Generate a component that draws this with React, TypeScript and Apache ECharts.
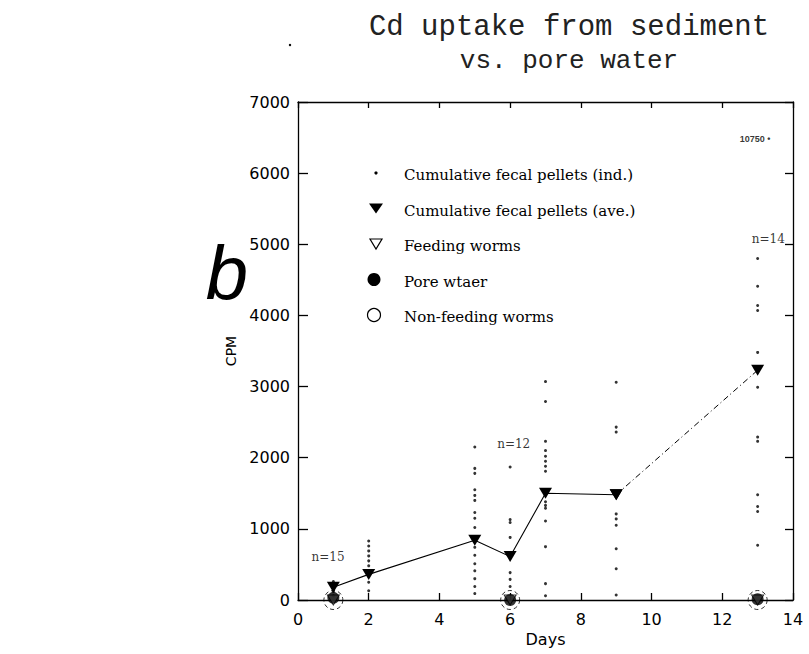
import React, { useEffect, useRef } from "react";
import * as echarts from "echarts";

// Days with sampled worms
const days = [1, 2, 5, 6, 7, 9, 13];
// Cumulative fecal pellets (average) per day
const aveCPM = [180, 360, 840, 610, 1500, 1480, 3230];
// Individual cumulative fecal pellet values per day
const indDay1 = [260, 190, 120, 60];
const indDay2 = [830, 760, 690, 620, 550, 480, 410, 250, 130];
const indDay5 = [2150, 1850, 1780, 1550, 1470, 1400, 1230, 1150, 1020, 740, 630, 510, 410, 300, 190, 90];
const indDay6 = [1870, 1130, 1090, 880, 385, 290, 190];
const indDay7 = [3070, 2790, 2230, 2100, 2020, 1950, 1880, 1810, 1380, 1330, 1290, 1110, 750, 230, 60];
const indDay9 = [3060, 2430, 2360, 1210, 1140, 1050, 720, 440, 70];
const indDay13 = [4800, 4410, 4140, 4070, 3480, 2990, 2290, 2230, 1480, 1315, 1245, 770];
const indByDay = [indDay1, indDay2, indDay5, indDay6, indDay7, indDay9, indDay13];
// Worm / pore water measurements
const wormDays = [1, 6, 13];
const poreWater = [30, 0, 10];
const feedingWorms = [0, 0, 0];
const nonFeedingWorms = [0, 0, 0];
// Sample size annotations [day, CPM, label]
const nLabels: [number, number, string][] = [
  [0.85, 600, "n=15"],
  [6.1, 2190, "n=12"],
  [13.3, 5080, "n=14"],
];
const offScale: [number, number, string][] = [[12.93, 6480, "10750 •"]];

const xTicks = [0, 14, 2];
const yTicks = [0, 7000, 1000];

export default function App() {
  const ref = useRef<HTMLDivElement>(null);
  useEffect(() => {
    if (!ref.current) return;
    const chart = echarts.init(ref.current, null, { renderer: "svg" });
    const indData: number[][] = [];
    days.forEach((d, i) => indByDay[i].forEach((v) => indData.push([d, v])));
    const aveSolid = days.slice(0, 6).map((d, i) => [d, aveCPM[i]]);
    const aveDashed = days.slice(5).map((d, i) => [d, aveCPM[i + 5]]);
    const black = "#000";
    const numFont = "DejaVu Sans";
    const serif = "DejaVu Serif";
    const legendRows = [
      { kind: "dot", text: "Cumulative fecal pellets (ind.)" },
      { kind: "ftri", text: "Cumulative fecal pellets (ave.)" },
      { kind: "otri", text: "Feeding worms" },
      { kind: "fcirc", text: "Pore wtaer" },
      { kind: "ocirc", text: "Non-feeding worms" },
    ];
    const legendChildren: any[] = [];
    legendRows.forEach((r, i) => {
      const cy = 173 + i * 35.5;
      const cx = 376;
      if (r.kind === "dot") legendChildren.push({ type: "circle", shape: { cx, cy, r: 1.6 }, style: { fill: black } });
      if (r.kind === "ftri") legendChildren.push({ type: "polygon", shape: { points: [[cx - 7, cy - 5], [cx + 7, cy - 5], [cx, cy + 5]] }, style: { fill: black } });
      if (r.kind === "otri") legendChildren.push({ type: "polygon", shape: { points: [[cx - 6, cy - 5], [cx + 6, cy - 5], [cx, cy + 5]] }, style: { fill: "#fff", stroke: black, lineWidth: 1.2 } });
      if (r.kind === "fcirc") legendChildren.push({ type: "circle", shape: { cx: cx - 2, cy, r: 6.5 }, style: { fill: black } });
      if (r.kind === "ocirc") legendChildren.push({ type: "circle", shape: { cx: cx - 2, cy, r: 6.5 }, style: { fill: "#fff", stroke: black, lineWidth: 1.2 } });
      legendChildren.push({
        type: "text",
        x: 404,
        y: cy + 2,
        style: { text: r.text, fill: black, font: `15px "${serif}"`, verticalAlign: "middle", align: "left" },
      });
    });

    const axisLineStyle = { color: black, width: 1.3 };
    const tickStyle = { color: black, width: 1.3 };

    chart.setOption({
      animation: false,
      backgroundColor: "#fff",
      title: {
        text: "Cd uptake from sediment",
        subtext: "vs. pore water",
        left: 564,
        top: 8,
        textAlign: "center",
        itemGap: 6,
        textStyle: { fontFamily: "Liberation Mono", fontSize: 29, fontWeight: "normal", color: "#222" },
        subtextStyle: { fontFamily: "Liberation Mono", fontSize: 26, color: "#222" },
      },
      grid: { left: 298, right: 16, top: 102, bottom: 54, outerBoundsMode: "none", containLabel: false },
      xAxis: [
        {
          type: "value",
          position: "bottom",
          min: xTicks[0],
          max: xTicks[1],
          interval: xTicks[2],
          name: "Days",
          nameLocation: "middle",
          nameGap: 31,
          nameTextStyle: { fontFamily: numFont, fontSize: 16, color: black },
          axisLine: { show: true, onZero: false, lineStyle: axisLineStyle },
          axisTick: { show: true, inside: true, length: 7, lineStyle: tickStyle },
          axisLabel: { margin: 11, fontFamily: numFont, fontSize: 16, color: black },
          splitLine: { show: false },
        },
        {
          type: "value",
          position: "top",
          min: xTicks[0],
          max: xTicks[1],
          interval: xTicks[2],
          axisLine: { show: true, onZero: false, lineStyle: axisLineStyle },
          axisTick: { show: true, inside: true, length: 6, lineStyle: tickStyle },
          axisLabel: { show: false },
          splitLine: { show: false },
        },
      ],
      yAxis: [
        {
          type: "value",
          position: "left",
          min: yTicks[0],
          max: yTicks[1],
          interval: yTicks[2],
          name: "CPM",
          nameLocation: "middle",
          nameGap: 60,
          nameRotate: 90,
          nameMoveOverlap: false,
          nameTextStyle: { fontFamily: numFont, fontSize: 14, color: black },
          axisLine: { show: true, onZero: false, lineStyle: axisLineStyle },
          axisTick: { show: true, inside: true, length: 10, lineStyle: tickStyle },
          axisLabel: { margin: 8, fontFamily: numFont, fontSize: 16, color: black, formatter: (v: number) => String(v) },
          splitLine: { show: false },
        },
        {
          type: "value",
          position: "right",
          min: yTicks[0],
          max: yTicks[1],
          interval: yTicks[2],
          axisLine: { show: true, onZero: false, lineStyle: axisLineStyle },
          axisTick: { show: true, inside: true, length: 8, lineStyle: tickStyle },
          axisLabel: { show: false },
          splitLine: { show: false },
        },
      ],
      series: [
        {
          name: "Cumulative fecal pellets (ind.)",
          type: "scatter",
          data: indData,
          symbol: "circle",
          symbolSize: 3,
          itemStyle: { color: black },
          z: 3,
        },
        {
          name: "Non-feeding worms",
          type: "scatter",
          data: wormDays.map((d, i) => [d, nonFeedingWorms[i]]),
          symbol: "circle",
          symbolSize: 19,
          itemStyle: { color: "rgba(255,255,255,0)", borderColor: black, borderWidth: 1, borderType: [4, 3] },
          z: 2,
        },
        {
          name: "Feeding worms",
          type: "scatter",
          data: wormDays.map((d, i) => [d, feedingWorms[i]]),
          symbol: "triangle",
          symbolRotate: 180,
          symbolSize: [12, 10],
          itemStyle: { color: "#fff", borderColor: black, borderWidth: 1 },
          z: 3,
        },
        {
          name: "Pore wtaer",
          type: "scatter",
          data: wormDays.map((d, i) => [d, poreWater[i]]),
          symbol: "circle",
          symbolSize: 12,
          itemStyle: { color: black },
          z: 4,
        },
        {
          name: "Cumulative fecal pellets (ave.)",
          type: "line",
          data: aveSolid,
          symbol: "triangle",
          symbolRotate: 180,
          symbolSize: [13, 11],
          itemStyle: { color: black },
          lineStyle: { color: black, width: 1.1 },
          z: 5,
        },
        {
          name: "Cumulative fecal pellets (ave.) trend",
          type: "line",
          data: aveDashed,
          symbol: "triangle",
          symbolRotate: 180,
          symbolSize: [13, 11],
          itemStyle: { color: black },
          lineStyle: { color: black, width: 1, type: [6, 3, 1, 3] },
          z: 5,
        },
        {
          name: "n",
          type: "scatter",
          data: nLabels.map((n) => ({ value: [n[0], n[1]], name: n[2] })),
          symbolSize: 0,
          itemStyle: { color: black },
          label: { show: true, position: "inside", formatter: "{b}", fontFamily: serif, fontSize: 12, color: black, textBorderWidth: 0 },
          z: 6,
        },
        {
          name: "off-scale",
          type: "scatter",
          data: offScale.map((n) => ({ value: [n[0], n[1]], name: n[2] })),
          symbolSize: 0,
          itemStyle: { color: black },
          label: { show: true, position: "inside", formatter: "{b}", fontFamily: "Liberation Sans", fontWeight: "bold", fontSize: 9, color: black, textBorderWidth: 0 },
          z: 6,
        },
      ],
      graphic: [
        { type: "group", children: legendChildren },
        {
          type: "text",
          x: 227,
          y: 272,
          style: { text: "b", fill: black, font: 'italic 76px "Liberation Sans"', align: "center", verticalAlign: "middle" },
        },
        { type: "circle", shape: { cx: 290, cy: 45, r: 1.2 }, style: { fill: black } },
      ],
    });
    return () => chart.dispose();
  }, []);
  return <div ref={ref} style={{ position: "fixed", left: 0, top: 0, width: 809, height: 654, background: "#fff" }} />;
}
